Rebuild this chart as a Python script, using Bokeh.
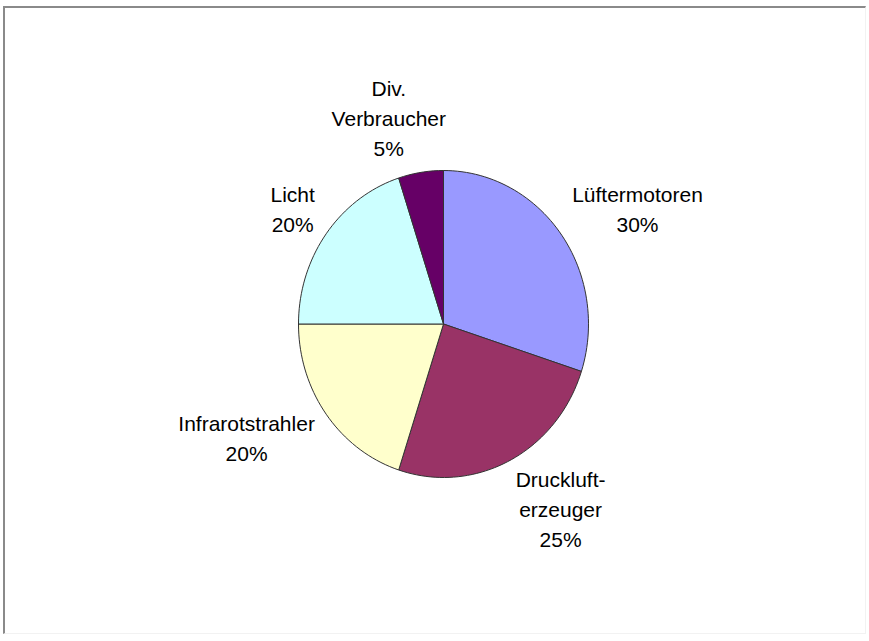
import numpy as np
from bokeh.plotting import figure
from bokeh.models import Range1d, ColumnDataSource
from bokeh.core.properties import value
from bokeh.embed import file_html
from bokeh.resources import INLINE

# ---- data ----
categories = ["Lüftermotoren", "Druckluft-\nerzeuger", "Infrarotstrahler", "Licht", "Div.\nVerbraucher"]
shares = [30, 25, 20, 20, 5]
colors = ["#9999FF", "#993366", "#FFFFCC", "#CCFFFF", "#660066"]

# ---- layout ----
W, H = 863, 628
CX, CY = 438.0, 315.5      # pie centre in figure pixels (from top-left of content)
RX, RY = 145.0, 153.5      # pixels per data unit (x, y)
FONT_PX = 21
LINE_H = 1.3
GAP = 14.0

p = figure(width=W, height=H, output_backend="svg", toolbar_location=None,
           x_range=Range1d(-CX / RX, (W - CX) / RX),
           y_range=Range1d(-(H - CY) / RY, CY / RY),
           min_border=0, background_fill_color="white", border_fill_color="white")
p.axis.visible = False
p.grid.visible = False
p.outline_line_color = None
p.styles = {"border-top": "2px solid #8a8a8a", "border-left": "2px solid #8a8a8a",
            "border-right": "1px solid #f2f2f2", "border-bottom": "1px solid #f2f2f2",
            "margin-top": "6px", "margin-left": "3px"}

# approximate Arial advance widths (em)
AW = {'a': .556, 'b': .556, 'c': .5, 'd': .556, 'e': .556, 'f': .278, 'g': .556, 'h': .556,
      'i': .222, 'k': .5, 'l': .222, 'm': .833, 'n': .556, 'o': .556, 'r': .333, 's': .5,
      't': .278, 'u': .556, 'v': .5, 'z': .5, 'ü': .556, 'D': .722, 'I': .278, 'L': .556,
      'V': .667, '%': .889, '.': .278, '-': .333, ' ': .278}


def text_w(s):
    return sum(AW.get(ch, .556) for ch in s) * FONT_PX


total = float(sum(shares))
fracs = np.array(shares) / total
cum = np.concatenate([[0.0], np.cumsum(fracs)])

xs, ys = [], []
lx, ly, ltext = [], [], []
for i, (cat, val) in enumerate(zip(categories, shares)):
    a0, a1 = cum[i], cum[i + 1]
    t = np.linspace(a0, a1, max(8, int(200 * (a1 - a0))))
    ang = np.pi / 2 - 2 * np.pi * t
    xs.append(np.concatenate([[0.0], np.cos(ang), [0.0]]).tolist())
    ys.append(np.concatenate([[0.0], np.sin(ang), [0.0]]).tolist())

    # label placement (screen pixels, y down), derived from mid angle
    mid = np.pi / 2 - 2 * np.pi * (a0 + a1) / 2
    dx, dy = np.cos(mid), -np.sin(mid)
    label = f"{cat}\n{int(val)}%"
    lines = label.split("\n")
    hw = max(text_w(s) for s in lines) / 2
    hh = len(lines) * FONT_PX * LINE_H / 2
    px = RX * dx + GAP * dx + hw * np.clip(3.3 * dx, -1, 1)
    py = RY * dy + GAP * dy + hh * dy
    lx.append(px / RX)
    ly.append(-py / RY)
    ltext.append(label)

p.patches(xs=xs, ys=ys, fill_color=colors, line_color="#333333", line_width=1)

src = ColumnDataSource(dict(x=lx, y=ly, text=ltext))
p.text(x="x", y="y", text="text", source=src, text_align="center", text_baseline="middle",
       text_font=value("Liberation Sans"), text_font_size=f"{FONT_PX}px",
       text_line_height=LINE_H, text_color="#000000")

open("out.html", "w").write(file_html(p, INLINE))
